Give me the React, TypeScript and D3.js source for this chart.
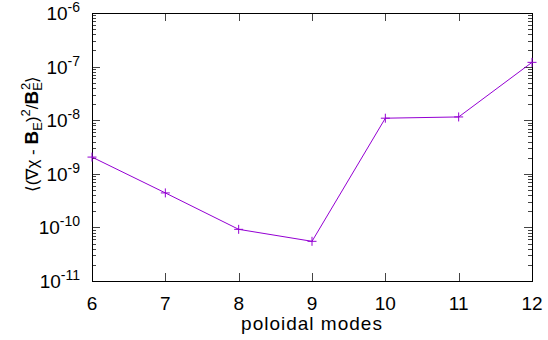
import React from 'react';
import * as d3 from 'd3';

const modes = [6, 7, 8, 9, 10, 11, 12];
const values = [2.05e-9, 4.4e-10, 9.2e-11, 5.5e-11, 1.09e-8, 1.15e-8, 1.2e-7];
const yTickExps = [-6, -7, -8, -9, -10, -11];

const W = 548;
const H = 340;
const margin = { top: 13, right: 16, bottom: 59, left: 92 };
const FONT = '"Liberation Sans", Arial, Helvetica, sans-serif';
const COLOR = '#9400d3';

const App: React.FC = () => {
  const x = d3.scaleLinear().domain([6, 12]).range([margin.left, W - margin.right]);
  const y = d3.scaleLog().domain([1e-11, 1e-6]).range([H - margin.bottom, margin.top]);

  const line = d3.line<number>()
    .x((d, i) => x(modes[i]))
    .y(d => y(d));

  // log minor ticks (2..9 of each decade)
  const minor = y.ticks().filter(t => {
    const m = t / Math.pow(10, Math.floor(Math.log10(t) + 1e-9));
    return Math.abs(m - 1) > 1e-6;
  });

  const left = margin.left, right = W - margin.right, top = margin.top, bottom = H - margin.bottom;
  const majorLen = 8, minorLen = 4;
  const px = (v: number) => Math.round(v) + 0.5;

  return (
    <div style={{ position: 'fixed', left: 0, top: 0 }}>
      <svg width={W} height={H} style={{ display: 'block', background: '#fff' }} fontFamily={FONT}>
        {minor.map((t, i) => (
          <g key={'m' + i} stroke="#444" strokeWidth={1}>
            <line x1={left} x2={left + minorLen} y1={px(y(t))} y2={px(y(t))} />
            <line x1={right} x2={right - minorLen} y1={px(y(t))} y2={px(y(t))} />
          </g>
        ))}
        {yTickExps.map(e => {
          const yy = y(Math.pow(10, e));
          return (
            <g key={'y' + e}>
              <line x1={left} x2={left + majorLen} y1={px(yy)} y2={px(yy)} stroke="#444" />
              <line x1={right} x2={right - majorLen} y1={px(yy)} y2={px(yy)} stroke="#444" />
              <text x={80} y={yy + 7} textAnchor="end" fontSize={19} fill="#000">
                10<tspan fontSize={14} dy={-8}>{e}</tspan>
              </text>
            </g>
          );
        })}
        {modes.map(m => (
          <g key={'x' + m}>
            <line x1={px(x(m))} x2={px(x(m))} y1={bottom} y2={bottom - majorLen} stroke="#444" />
            <line x1={px(x(m))} x2={px(x(m))} y1={top} y2={top + majorLen} stroke="#444" />
            <text x={x(m)} y={310} textAnchor="middle" fontSize={19} fill="#000">{m}</text>
          </g>
        ))}
        <rect x={left + 0.5} y={top + 0.5} width={right - left} height={bottom - top} fill="none" stroke="#000" strokeWidth={1} />
        <path d={line(values) || ''} fill="none" stroke={COLOR} strokeWidth={1} />
        {values.map((v, i) => {
          const cx = x(modes[i]), cy = y(v);
          return (
            <g key={'p' + i} stroke={COLOR} strokeWidth={1}>
              <line x1={cx - 4.5} x2={cx + 4.5} y1={cy} y2={cy} />
              <line x1={cx} x2={cx} y1={cy - 4.5} y2={cy + 4.5} />
            </g>
          );
        })}
        <text x={(left + right) / 2} y={330} textAnchor="middle" fontSize={19} letterSpacing={1} fill="#000">poloidal modes</text>
        <text transform="translate(38,134) rotate(-90)" textAnchor="middle" fontSize={17} fill="#000">
          ⟨(∇χ - <tspan fontWeight="bold" fontSize={19}>B</tspan>
          <tspan fontSize={13} dy={4}>E</tspan>
          <tspan dy={-4}>)</tspan>
          <tspan fontSize={13} dy={-8}>2</tspan>
          <tspan dy={8}>/</tspan>
          <tspan fontWeight="bold" fontSize={19}>B</tspan>
          <tspan fontSize={13} dy={4}>E</tspan>
          <tspan fontSize={13} dx={-8} dy={-12}>2</tspan>
          <tspan dy={8}>⟩</tspan>
        </text>
      </svg>
    </div>
  );
};

export default App;
